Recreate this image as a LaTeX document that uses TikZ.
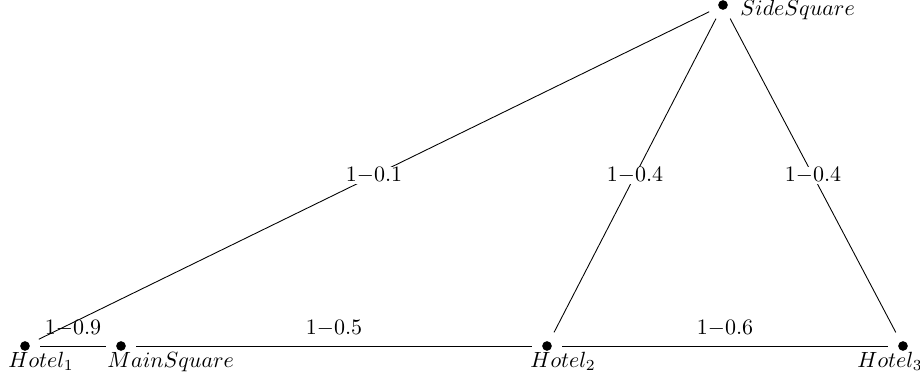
\documentclass[tikz,border=0pt]{standalone}
\begin{document}
\begin{tikzpicture}[x=0.4545pt,y=-0.4545pt,
  vert/.style={circle,minimum size=13.6pt,inner sep=0pt,
    path picture={\fill (path picture bounding box.center) circle (2.2pt);}},
  vname/.style={anchor=base west,inner sep=0pt},
  wlab/.style={midway,fill=white,inner sep=0pt},
  hlab/.style={midway,above,inner sep=4pt}]
\useasboundingbox (0,0) rectangle (920,378);
\node[vert] (h1) at (25,346) {};
\node[vert] (ms) at (121,346) {};
\node[vert] (h2) at (547,346) {};
\node[vert] (h3) at (903,346) {};
\node[vert] (ss) at (723,5) {};
\node[vname] (h1n) at (8,367) {$Hotel_1$};
\node[vname] (msn) at (107,367) {$MainSquare$};
\node[vname] (h2n) at (530,367) {$Hotel_2$};
\node[vname] (h3n) at (857,367) {$Hotel_3$};
\node[vname] (ssn) at (740,15) {$SideSquare$};
\draw (h1) -- (ms) node[hlab] (l1) {$1{-}0.9$};
\draw (ms) -- (h2) node[hlab] (l2) {$1{-}0.5$};
\draw (h2) -- (h3) node[hlab] (l3) {$1{-}0.6$};
\draw (h1) -- (ss) node[wlab] (l4) {$1{-}0.1$};
\draw (h2) -- (ss) node[wlab] (l5) {$1{-}0.4$};
\draw (h3) -- (ss) node[wlab] (l6) {$1{-}0.4$};
\end{tikzpicture}
\end{document}
